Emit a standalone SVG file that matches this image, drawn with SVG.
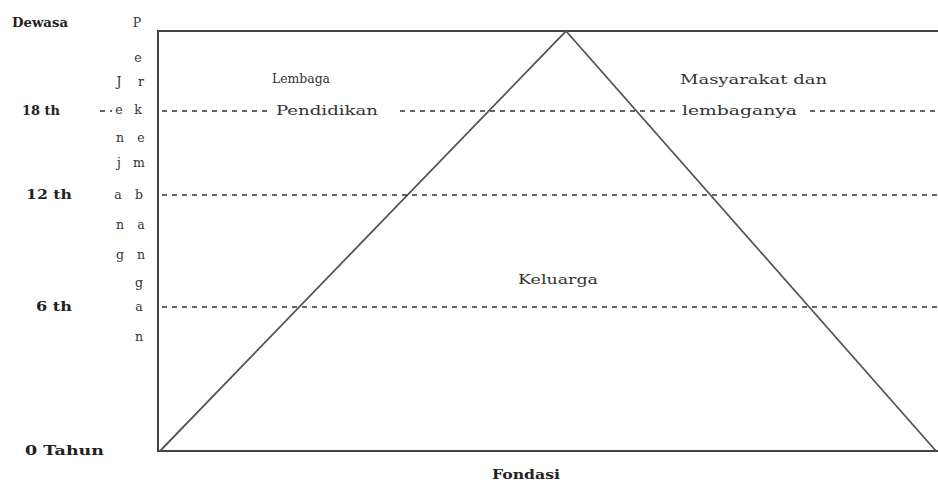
<svg xmlns="http://www.w3.org/2000/svg" width="938" height="484" viewBox="0 0 938 484">
<style>
.lbl{font-family:"DejaVu Serif","Liberation Serif",serif;font-size:12.5px;font-weight:bold;fill:#222}
.txt{font-family:"DejaVu Serif","Liberation Serif",serif;font-size:13px;fill:#333}
.col{font-family:"DejaVu Serif","Liberation Serif",serif;font-size:12.5px;fill:#333;text-anchor:middle}
.frame{fill:none;stroke:#444;stroke-width:2}
.tri{fill:none;stroke:#555;stroke-width:1.8}
.dash{stroke:#333;stroke-width:1.3;stroke-dasharray:5 5}
</style>
<rect width="938" height="484" fill="#fff"/>
<g id="frame">
<polyline class="frame" points="938,31 158,31 158,451 938,451"/>
</g>
<g id="triangle">
<polyline class="tri" points="160,451 566,31 936,451"/>
</g>
<g id="connectors">
<line class="dash" x1="100" y1="111" x2="112" y2="111"/>
<line class="dash" x1="162" y1="111" x2="272" y2="111"/>
<line class="dash" x1="400" y1="111" x2="678" y2="111"/>
<line class="dash" x1="810" y1="111" x2="938" y2="111"/>
<line class="dash" x1="162" y1="195" x2="938" y2="195"/>
<line class="dash" x1="162" y1="307" x2="938" y2="307"/>
</g>
<g id="ages">
<text class="lbl" x="12" y="27" textLength="56" lengthAdjust="spacingAndGlyphs">Dewasa</text>
<text class="lbl" x="22" y="115" textLength="38" lengthAdjust="spacingAndGlyphs">18 th</text>
<text class="lbl" x="26" y="199" textLength="46" lengthAdjust="spacingAndGlyphs">12 th</text>
<text class="lbl" x="36" y="311" textLength="36" lengthAdjust="spacingAndGlyphs">6 th</text>
<text class="lbl" x="25" y="455" textLength="79" lengthAdjust="spacingAndGlyphs">0 Tahun</text>
</g>
<g id="vertical-label">
<text class="col" x="137" y="27">P</text>
<text class="col" x="138" y="62">e</text>
<text class="col" x="119" y="86">J</text><text class="col" x="141" y="86">r</text>
<text class="col" x="119" y="114">e</text><text class="col" x="138" y="114">k</text>
<text class="col" x="120" y="142">n</text><text class="col" x="141" y="142">e</text>
<text class="col" x="119" y="167">j</text><text class="col" x="139" y="167">m</text>
<text class="col" x="118" y="199">a</text><text class="col" x="139" y="199">b</text>
<text class="col" x="120" y="229">n</text><text class="col" x="141" y="229">a</text>
<text class="col" x="120" y="259">g</text><text class="col" x="141" y="259">n</text>
<text class="col" x="139" y="287">g</text>
<text class="col" x="139" y="311">a</text>
<text class="col" x="139" y="341">n</text>
</g>
<g id="lembaga-pendidikan">
<text class="txt" x="272" y="83" textLength="58" lengthAdjust="spacingAndGlyphs">Lembaga</text>
<text class="txt" x="276" y="115" textLength="102" lengthAdjust="spacingAndGlyphs">Pendidikan</text>
</g>
<g id="masyarakat">
<text class="txt" x="680" y="84" textLength="147" lengthAdjust="spacingAndGlyphs">Masyarakat dan</text>
<text class="txt" x="682" y="115" textLength="115" lengthAdjust="spacingAndGlyphs">lembaganya</text>
</g>
<g id="keluarga">
<text class="txt" x="518" y="284" textLength="80" lengthAdjust="spacingAndGlyphs">Keluarga</text>
</g>
<g id="fondasi">
<text class="lbl" x="492" y="479" textLength="68" lengthAdjust="spacingAndGlyphs">Fondasi</text>
</g>
</svg>
